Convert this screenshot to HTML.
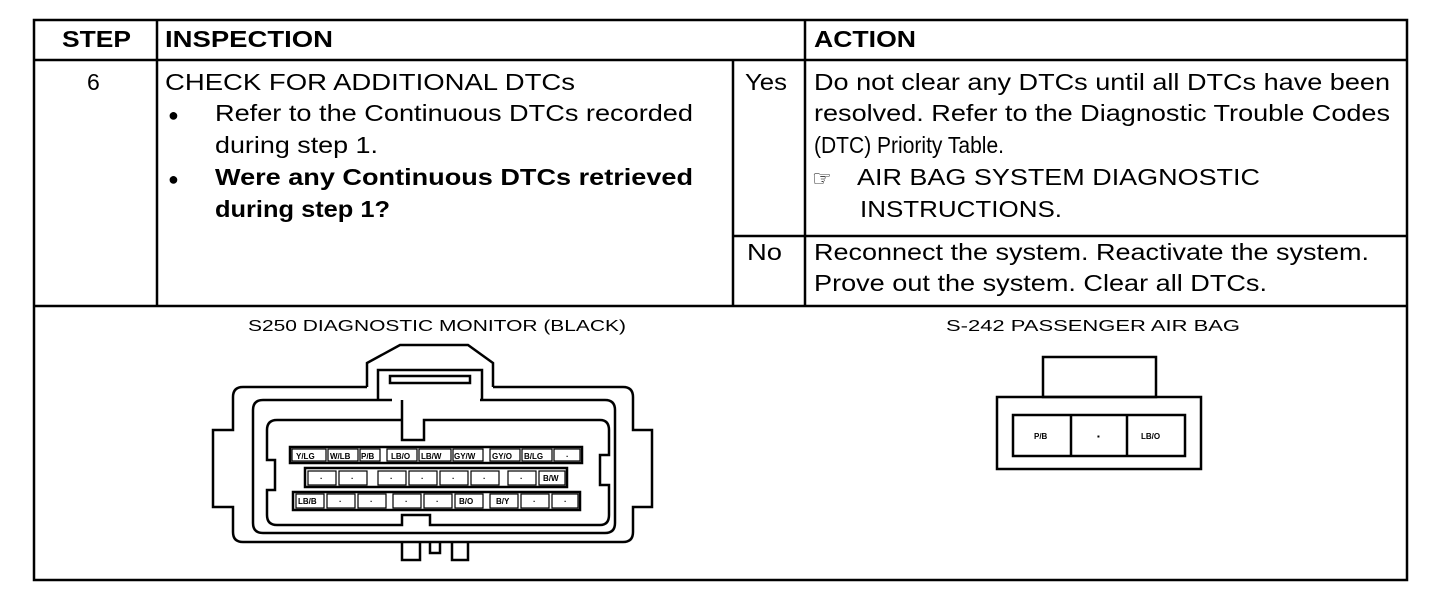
<!DOCTYPE html>
<html><head><meta charset="utf-8"><style>
html,body{margin:0;padding:0;background:#fff;width:1456px;height:602px;overflow:hidden}
svg{display:block}
text{font-family:"Liberation Sans",Arial,sans-serif;fill:#000}
.t{font-size:23px}
.b{font-size:23px;font-weight:bold}
.s{font-size:16px}
.p{font-size:8px;font-weight:bold}
</style></head><body>
<svg width="1456" height="602" viewBox="0 0 1456 602">
<g stroke="#000" stroke-width="2.5" fill="none">
<rect x="34" y="20" width="1373" height="560"/>
<line x1="34" y1="60" x2="1407" y2="60"/>
<line x1="34" y1="306" x2="1407" y2="306"/>
<line x1="157" y1="20" x2="157" y2="306"/>
<line x1="805" y1="20" x2="805" y2="306"/>
<line x1="733" y1="60" x2="733" y2="306"/>
<line x1="733" y1="236" x2="1407" y2="236"/>
</g>
<g lengthAdjust="spacingAndGlyphs">
<text class="b" x="62" y="47" textLength="69" lengthAdjust="spacingAndGlyphs">STEP</text>
<text class="b" x="165" y="47" textLength="168" lengthAdjust="spacingAndGlyphs">INSPECTION</text>
<text class="b" x="814" y="47" textLength="102" lengthAdjust="spacingAndGlyphs">ACTION</text>
<text class="t" x="87" y="90">6</text>
<text class="t" x="165" y="90" textLength="410" lengthAdjust="spacingAndGlyphs">CHECK FOR ADDITIONAL DTCs</text>
<text class="t" x="168" y="121" style="font-size:18px">●</text>
<text class="t" x="215" y="121" textLength="478" lengthAdjust="spacingAndGlyphs">Refer to the Continuous DTCs recorded</text>
<text class="t" x="215" y="153" textLength="163" lengthAdjust="spacingAndGlyphs">during step 1.</text>
<text class="t" x="168" y="185" style="font-size:18px">●</text>
<text class="b" x="215" y="185" textLength="478" lengthAdjust="spacingAndGlyphs">Were any Continuous DTCs retrieved</text>
<text class="b" x="215" y="217" textLength="175" lengthAdjust="spacingAndGlyphs">during step 1?</text>
<text class="t" x="745" y="90" textLength="42" lengthAdjust="spacingAndGlyphs">Yes</text>
<text class="t" x="814" y="90" textLength="576" lengthAdjust="spacingAndGlyphs">Do not clear any DTCs until all DTCs have been</text>
<text class="t" x="814" y="121" textLength="576" lengthAdjust="spacingAndGlyphs">resolved. Refer to the Diagnostic Trouble Codes</text>
<text class="t" x="814" y="153" textLength="190" lengthAdjust="spacingAndGlyphs">(DTC) Priority Table.</text>
<text class="t" x="812" y="186" style="font-size:22px">☞</text>
<text class="t" x="857" y="185" textLength="403" lengthAdjust="spacingAndGlyphs">AIR BAG SYSTEM DIAGNOSTIC</text>
<text class="t" x="860" y="217" textLength="202" lengthAdjust="spacingAndGlyphs">INSTRUCTIONS.</text>
<text class="t" x="747" y="260" textLength="35" lengthAdjust="spacingAndGlyphs">No</text>
<text class="t" x="814" y="260" textLength="555" lengthAdjust="spacingAndGlyphs">Reconnect the system. Reactivate the system.</text>
<text class="t" x="814" y="291" textLength="453" lengthAdjust="spacingAndGlyphs">Prove out the system. Clear all DTCs.</text>
<text class="s" x="248" y="331" textLength="378" lengthAdjust="spacingAndGlyphs">S250   DIAGNOSTIC MONITOR (BLACK)</text>
<text class="s" x="946" y="331" textLength="294" lengthAdjust="spacingAndGlyphs">S-242     PASSENGER AIR BAG</text>
</g>
<!-- S250 connector -->
<g stroke="#000" stroke-width="2.5" fill="none">
<path d="M367 387 V363 L400 345 H468 L493 363 V387"/>
<path d="M367 387 H243 Q233 387 233 397 V430 H213 V507 H233 V532 Q233 542 243 542 H623 Q633 542 633 532 V507 H652 V430 H633 V397 Q633 387 623 387 H493"/>
<path d="M378 400 V370 H482 V400"/>
<path d="M390 376 H470 V383 H390 Z"/>
<path d="M392 400 H263 Q253 400 253 410 V523 Q253 533 263 533 H605 Q615 533 615 523 V410 Q615 400 605 400 H480"/>
<path d="M402 400 V440 H424 V420 H600 Q609 420 609 430 V455 H600 V485 H609 V515 Q609 525 600 525 H430 V515 H402 V525 H277 Q267 525 267 515 V490 H275 V460 H267 V430 Q267 420 277 420 H402"/>
<rect x="290" y="447" width="292" height="16"/>
<rect x="305" y="468" width="262" height="19"/>
<rect x="293" y="492" width="287" height="18"/>
<path d="M402 542 V560 H420 V542 M430 542 V553 H440 V542 M452 542 V560 H468 V542"/>
</g>
<g stroke="#000" stroke-width="1.2" fill="#fff">
<rect x="292" y="449" width="34" height="12"/><rect x="328" y="449" width="30" height="12"/><rect x="360" y="449" width="20" height="12"/>
<rect x="387" y="449" width="30" height="12"/><rect x="419" y="449" width="32" height="12"/><rect x="453" y="449" width="30" height="12"/>
<rect x="490" y="449" width="30" height="12"/><rect x="522" y="449" width="30" height="12"/><rect x="554" y="449" width="26" height="12"/>
<rect x="308" y="471" width="28" height="14"/><rect x="339" y="471" width="28" height="14"/><rect x="378" y="471" width="28" height="14"/><rect x="409" y="471" width="28" height="14"/><rect x="440" y="471" width="28" height="14"/><rect x="471" y="471" width="28" height="14"/><rect x="508" y="471" width="28" height="14"/><rect x="539" y="471" width="26" height="14"/>
<rect x="296" y="494" width="28" height="14"/><rect x="327" y="494" width="28" height="14"/><rect x="358" y="494" width="28" height="14"/><rect x="393" y="494" width="28" height="14"/><rect x="424" y="494" width="28" height="14"/><rect x="455" y="494" width="28" height="14"/><rect x="490" y="494" width="28" height="14"/><rect x="521" y="494" width="28" height="14"/><rect x="552" y="494" width="26" height="14"/>
</g>
<g>
<text class="p" x="296" y="459">Y/LG</text><text class="p" x="330" y="459">W/LB</text><text class="p" x="361" y="459">P/B</text>
<text class="p" x="391" y="459">LB/O</text><text class="p" x="421" y="459">LB/W</text><text class="p" x="454" y="459">GY/W</text>
<text class="p" x="492" y="459">GY/O</text><text class="p" x="524" y="459">B/LG</text><text class="p" x="566" y="459">·</text>
<text class="p" x="320" y="481">·</text><text class="p" x="351" y="481">·</text><text class="p" x="390" y="481">·</text><text class="p" x="421" y="481">·</text><text class="p" x="452" y="481">·</text><text class="p" x="483" y="481">·</text><text class="p" x="520" y="481">·</text><text class="p" x="543" y="481">B/W</text>
<text class="p" x="298" y="504">LB/B</text><text class="p" x="339" y="504">·</text><text class="p" x="370" y="504">·</text><text class="p" x="405" y="504">·</text><text class="p" x="436" y="504">·</text><text class="p" x="459" y="504">B/O</text><text class="p" x="496" y="504">B/Y</text><text class="p" x="533" y="504">·</text><text class="p" x="564" y="504">·</text>
</g>
<!-- S-242 connector -->
<g stroke="#000" stroke-width="2.5" fill="none">
<rect x="1043" y="357" width="113" height="40"/>
<rect x="997" y="397" width="204" height="72"/>
<rect x="1013" y="415" width="172" height="41"/>
<line x1="1071" y1="415" x2="1071" y2="456"/>
<line x1="1127" y1="415" x2="1127" y2="456"/>
</g>
<text class="p" x="1034" y="439">P/B</text>
<text class="p" x="1097" y="439">▪</text>
<text class="p" x="1141" y="439">LB/O</text>
</svg>
</body></html>
